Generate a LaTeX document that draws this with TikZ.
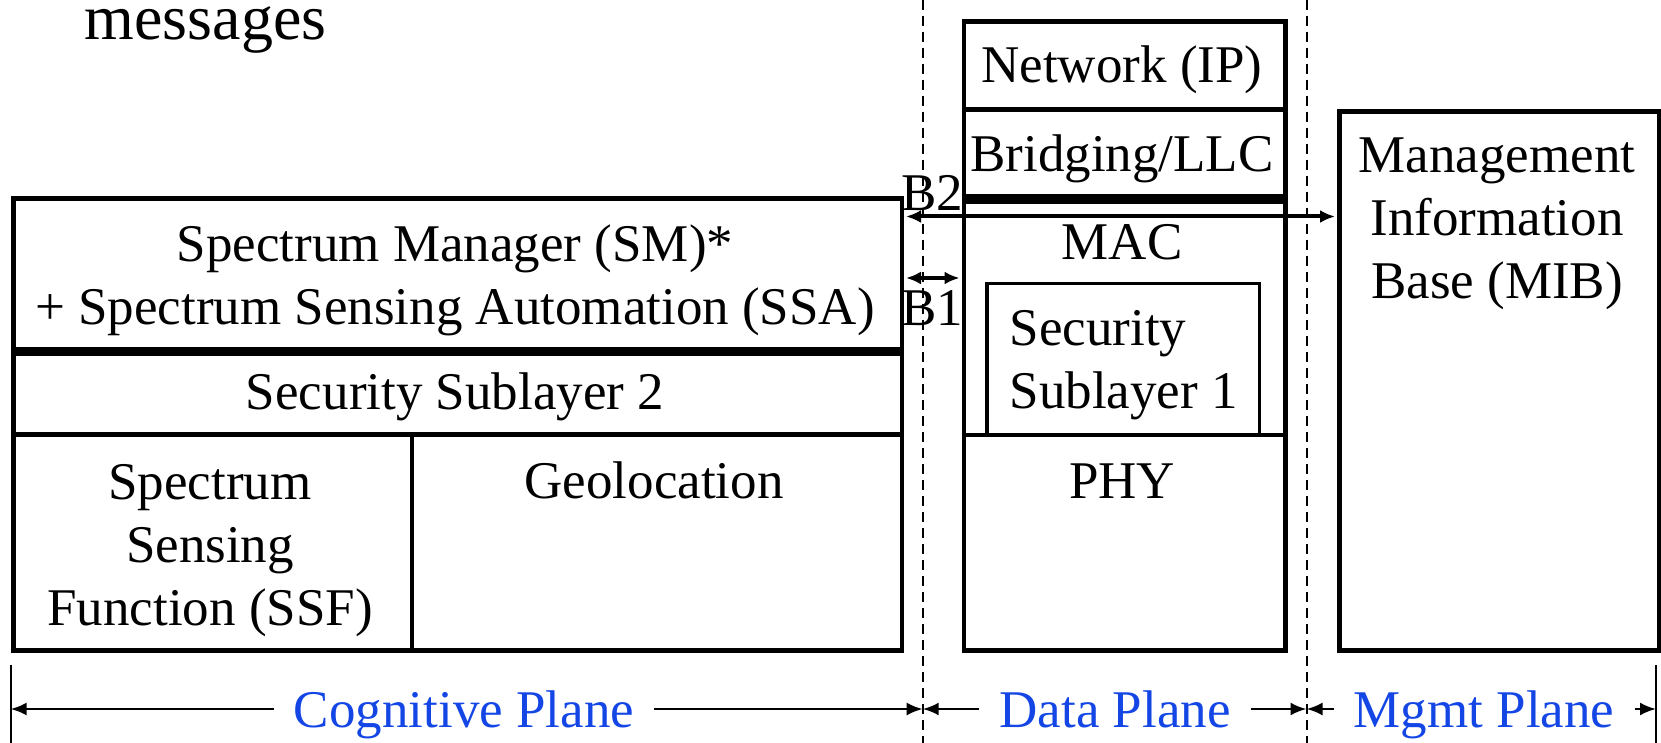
\documentclass[tikz,border=0pt]{standalone}
\usepackage{fontspec}
\setmainfont{Liberation Serif}
\usetikzlibrary{arrows.meta}
\definecolor{planeblue}{RGB}{20,70,230}
\tikzset{
  box/.style={draw, line width=4.5pt, inner sep=0pt, anchor=north west, rectangle},
  thinbox/.style={box, line width=3.5pt},
  txt/.style={font=\fontsize{53}{63}\selectfont, inner sep=0pt, align=center, anchor=base},
  ltxt/.style={txt, align=left},
  planelbl/.style={txt, text=planeblue, inner xsep=20pt},
  sep/.style={line width=2pt, dash pattern=on 10pt off 6pt},
  barrow/.style={line width=4pt, {Latex[length=15pt,width=13pt]}-{Latex[length=15pt,width=13pt]}, shorten <=2pt, shorten >=2pt},
  parrow/.style={line width=2.5pt, -{Latex[length=16pt,width=13pt]}},
  tick/.style={line width=2pt}
}
\begin{document}
\begin{tikzpicture}[x=1pt,y=-1pt]
\useasboundingbox (0,0) rectangle (1661,743);

% dashed plane separators
\coordinate (d1t) at (922.7,0);  \coordinate (d1b) at (922.7,743);
\coordinate (d2t) at (1306.5,0); \coordinate (d2b) at (1306.5,743);
\draw[sep] (d1t) -- (d1b);
\draw[sep] (d2t) -- (d2b);

% title fragment
\node[txt, font=\fontsize{64}{76}\selectfont] (msg) at (205.5,40) {messages};

% cognitive plane stack
\node[box, minimum width=888.5pt, minimum height=150.5pt] (sm) at (11,196.5) {};
\node[box, minimum width=888.5pt, minimum height=85pt] (ss2) at (11,347) {};
\node[box, minimum width=398.5pt, minimum height=216pt] (ssf) at (11,432) {};
\node[box, minimum width=490pt, minimum height=216pt] (geo) at (409.5,432) {};
\draw[line width=9pt] (sm.south west) -- (sm.south east);

\node[txt] (smt1) at (455,261.5) {Spectrum Manager (SM)*};
\node[txt] (smt2) at (455,324) {+ Spectrum Sensing Automation (SSA)};
\node[txt] (ss2t) at (455,409) {Security Sublayer 2};
\node[txt] (ssft) at (210,625) {Spectrum\\Sensing\\Function (SSF)};
\node[txt] (geot) at (654,498) {Geolocation};

% data plane stack
\node[box, minimum width=321.5pt, minimum height=88pt] (net) at (961.5,19.5) {};
\node[box, minimum width=321.5pt, minimum height=87pt] (bri) at (961.5,107.5) {};
\node[box, minimum width=321.5pt, minimum height=233pt] (mac) at (961.5,199.5) {};
\node[thinbox, minimum width=272.5pt, minimum height=151pt] (sec1) at (985,281.5) {};
\node[box, minimum width=321.5pt, minimum height=215.5pt] (phy) at (961.5,432.5) {};

\node[txt] (nett) at (1122,83) {Network (IP)};
\node[txt] (brit) at (1122,172) {Bridging/LLC};
\node[txt] (mact) at (1122,259.5) {MAC};
\node[ltxt, anchor=base west] (sec1t) at (1009.5,408) {Security\\Sublayer 1};
\node[txt] (phyt) at (1122,498) {PHY};

% management plane
\node[box, minimum width=320pt, minimum height=538.5pt] (mib) at (1337,109.5) {};
\node[txt] (mibt) at (1497,298.5) {Management\\Information\\Base (MIB)};

% interfaces
\coordinate (b2y) at (0,216.5);
\coordinate (b1y) at (0,278);
\draw[barrow] (sm.east |- b2y) -- (mib.west |- b2y);
\draw[barrow] (sm.east |- b1y) -- (mac.west |- b1y);
\node[txt] (b2) at (932,211) {B2};
\node[txt] (b1) at (932,325) {B1};

% plane labels
\coordinate (tl) at (10.6,665);  \coordinate (tlb) at (10.6,743);
\coordinate (tr) at (1656,665);  \coordinate (trb) at (1656,743);
\draw[tick] (tl) -- (tlb);
\draw[tick] (tr) -- (trb);
\coordinate (ay) at (0,709);

\node[planelbl] (cog) at (464,727) {Cognitive Plane};
\node[planelbl] (dat) at (1115,727) {Data Plane};
\node[planelbl] (mgm) at (1484,727) {Mgmt Plane};

\draw[parrow] (cog.west |- ay) -- (tl |- ay);
\draw[parrow] (cog.east |- ay) -- (d1t |- ay);
\draw[parrow] (dat.west |- ay) -- (d1t |- ay);
\draw[parrow] (dat.east |- ay) -- (d2t |- ay);
\draw[parrow] (mgm.west |- ay) -- (d2t |- ay);
\draw[parrow] (mgm.east |- ay) -- (tr |- ay);
\end{tikzpicture}
\end{document}
